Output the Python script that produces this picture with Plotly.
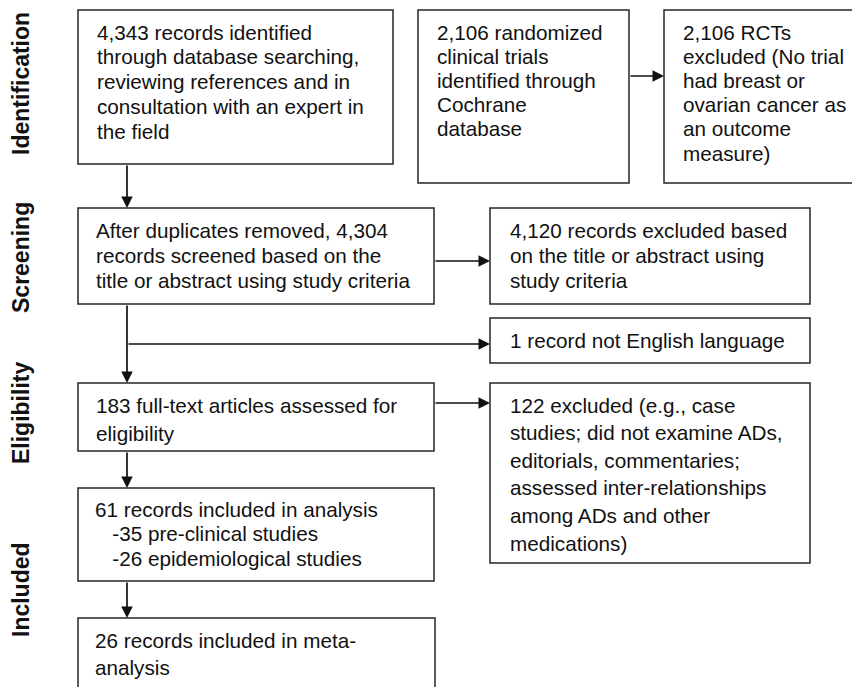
import plotly.graph_objects as go

# ---- content ----
stage_labels = ["Identification", "Screening", "Eligibility", "Included"]

box_texts = [
    ["4,343 records identified", "through database searching,", "reviewing references and in",
     "consultation with an expert in", "the field"],
    ["2,106 randomized", "clinical trials", "identified through", "Cochrane", "database"],
    ["2,106 RCTs", "excluded (No trial", "had breast or", "ovarian cancer as", "an outcome", "measure)"],
    ["After duplicates removed, 4,304", "records screened based on the", "title or abstract using study criteria"],
    ["4,120 records excluded based", "on the title or abstract using", "study criteria"],
    ["1 record not English language"],
    ["183 full-text articles assessed for", "eligibility"],
    ["122 excluded (e.g., case", "studies; did not examine ADs,", "editorials, commentaries;",
     "assessed inter-relationships", "among ADs and other", "medications)"],
    ["61 records included in analysis", "   -35 pre-clinical studies", "   -26 epidemiological studies"],
    ["26 records included in meta-", "analysis"],
]

# ---- layout geometry (pixels, y downward) ----
W, H = 852, 687
rects = [
    (78, 10, 393, 164),
    (418, 10, 629, 183),
    (664, 10, 856, 183),
    (78, 208, 434, 304),
    (490, 208, 810, 304),
    (490, 318, 810, 363),
    (78, 383, 434, 451),
    (490, 383, 810, 563),
    (78, 488, 434, 581),
    (78, 618, 435, 692),
]
text_x = [95, 435, 681, 94, 508, 508, 94, 508, 93, 93]
line_first = [32, 32, 32, 230, 230, 340.5, 405, 405, 509, 640]
line_step = [24.8, 24.2, 24.2, 25, 25, 0, 28, 27.6, 24.5, 27]

label_pos = [(21, 84), (21, 258), (21, 413), (21, 590)]

arrows = [  # (x0, y0, x1, y1)
    (127, 164, 127, 208),
    (629, 76, 664, 76),
    (434, 261, 490, 261),
    (127, 304, 127, 383),
    (127, 344, 490, 344),
    (434, 403, 490, 403),
    (127, 451, 127, 488),
    (127, 581, 127, 618),
]

LINE = "#262626"
FONT = "Liberation Sans, Arial, sans-serif"

fig = go.Figure()
fig.add_trace(go.Scatter(x=[0, W], y=[0, H], mode="markers", marker=dict(opacity=0), hoverinfo="skip",
                         showlegend=False))

for (x0, y0, x1, y1) in rects:
    fig.add_shape(type="rect", x0=x0, y0=y0, x1=x1, y1=y1, xref="x", yref="y",
                  line=dict(color=LINE, width=1.5), fillcolor="rgba(0,0,0,0)")

annotations = []
for i, lines in enumerate(box_texts):
    for j, t in enumerate(lines):
        annotations.append(dict(
            x=text_x[i], y=line_first[i] + j * line_step[i], xref="x", yref="y",
            text=t.replace(" ", "&nbsp;") if t.startswith(" ") else t,
            showarrow=False, xanchor="left", yanchor="middle",
            font=dict(family=FONT, size=20.7, color="#111111"),
        ))

for lab, (lx, ly) in zip(stage_labels, label_pos):
    annotations.append(dict(
        x=lx, y=ly, xref="x", yref="y", text="<b>%s</b>" % lab, textangle=-90,
        showarrow=False, xanchor="center", yanchor="middle",
        font=dict(family=FONT, size=23, color="#111111"),
    ))

for (x0, y0, x1, y1) in arrows:
    annotations.append(dict(
        x=x1, y=y1, ax=x0, ay=y0, xref="x", yref="y", axref="x", ayref="y",
        text="", showarrow=True, arrowhead=2, arrowwidth=1.7, arrowsize=1.35,
        arrowcolor="#111111", standoff=0, startstandoff=0,
    ))

fig.update_layout(
    width=W, height=H,
    margin=dict(l=0, r=0, t=0, b=0),
    paper_bgcolor="white", plot_bgcolor="white",
    xaxis=dict(range=[0, W], visible=False, fixedrange=True),
    yaxis=dict(range=[H, 0], visible=False, fixedrange=True),
    annotations=annotations,
    showlegend=False,
)

fig.write_html("out.html", config={"displayModeBar": False},
               post_script="document.body.style.margin='0';document.body.style.overflow='hidden';")
